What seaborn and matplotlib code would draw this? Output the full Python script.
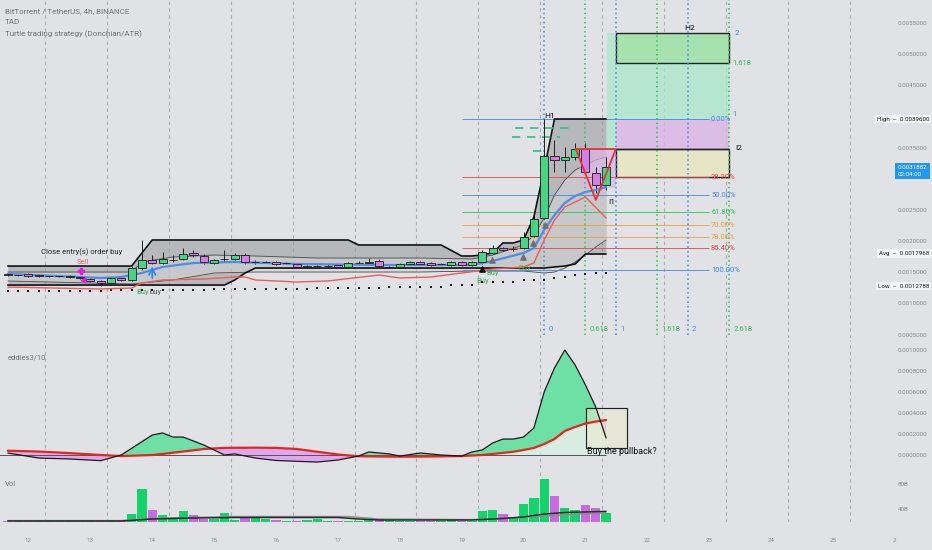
import matplotlib
matplotlib.use("Agg")
import matplotlib.pyplot as plt
import matplotlib.patches as mpatches
import numpy as np
import pandas as pd
import seaborn as sns

BG = "#e0e2e5"
C_GREEN = "#45d585"
C_PURPLE = "#d47ee6"
V_GREEN = "#14d36a"
V_PURPLE = "#c86ae0"
FIB_BLUE = "#3d86f0"
FIB_GREEN = "#2fbf55"
FIB_RED = "#ee4040"
FIB_ORANGE = "#f0a030"

# ---- candles: BTT/USDT 4h, prices in 1e-7 USDT, volume in billions ----
first_bar_day = 11 + 16 / 24   # first bar 11th 16:00, one bar every 4h
opens = [14720, 14560, 14720, 14560, 14400, 14400, 14400, 14240, 13920, 13600,
         13280, 14080, 13760, 15680, 16970, 16490, 16970, 17130, 18090, 17610,
         16490, 17130, 17130, 17770, 16650, 16650, 16650, 16490, 16330, 15850,
         16000, 16000, 16170, 15850, 16490, 16490, 16810, 15850, 15850, 16330,
         16650, 16490, 16330, 16170, 16650, 16170, 16650, 18090, 18890, 18730,
         18890, 20820, 23710, 33660, 33020, 33500, 34790, 30930, 29010]
highs = [14880, 14720, 14880, 14720, 14560, 14560, 14560, 14400, 14080, 13760,
         14240, 14240, 16000, 20180, 17770, 18250, 17770, 18890, 18570, 17930,
         17130, 18570, 18090, 18090, 16970, 16810, 16810, 16650, 16490, 16170,
         16170, 16330, 16330, 16650, 16810, 17290, 17130, 16000, 16490, 16810,
         16810, 16650, 16490, 16810, 16810, 16810, 18570, 19380, 19060, 19220,
         21460, 24350, 39600, 36230, 35110, 35750, 35750, 31900, 33500]
lows = [14400, 14400, 14240, 14240, 14240, 14240, 14080, 13920, 13440, 12790,
        12960, 13600, 13600, 15360, 16330, 16330, 16650, 16970, 17450, 16330,
        16330, 16810, 16970, 16330, 16330, 16490, 16170, 16330, 15680, 15680,
        15850, 15850, 15680, 15680, 16170, 16330, 15680, 15680, 15680, 16170,
        16170, 16000, 16170, 16000, 16000, 16000, 16330, 17930, 18410, 18410,
        18730, 20660, 23550, 31090, 31090, 33020, 30770, 27720, 28200]
closes = [14560, 14560, 14400, 14400, 14400, 14400, 14240, 14080, 13600, 13280,
          14080, 13760, 15680, 16970, 16490, 17130, 16970, 17930, 17770, 16650,
          16970, 17130, 17770, 16650, 16650, 16650, 16330, 16490, 15850, 16000,
          16000, 16000, 15850, 16490, 16490, 16650, 16000, 15850, 16330, 16650,
          16330, 16170, 16330, 16650, 16170, 16650, 18250, 18890, 18570, 18730,
          20660, 23550, 33660, 33020, 33500, 34790, 31090, 29010, 31882]
volume_b = [21.5, 20.5, 20.5, 20.5, 20.5, 20.5, 21.0, 21.5, 21.0, 21.0,
            21.5, 22.9, 32.0, 72.0, 39.0, 29.8, 26.1, 37.4, 29.8, 23.8,
            23.8, 33.0, 22.9, 27.4, 26.1, 23.8, 22.4, 21.5, 21.5, 22.4,
            23.8, 20.5, 21.5, 20.5, 20.5, 22.9, 23.8, 22.9, 21.5, 20.8,
            20.5, 20.3, 20.5, 22.9, 21.5, 20.5, 36.2, 38.9, 31.5, 25.0,
            47.5, 57.1, 87.8, 60.3, 41.1, 38.9, 46.6, 42.1, 33.0]

# Turtle / Donchian channel (per bar, 1e-7)
don_upper = [16000] * 13 + [18100] + [20180] * 20 + [19380] * 9 + [18500] + [17610] * 2 + \
            [17800, 18090, 19700, 19700, 20180, 23870, 31500] + [39600] * 6
don_lower = [12950] * 22 + [13760, 14880] + [15680] * 29 + [15850, 16000, 16330] + [17930] * 3
stop_dots = [11990] * 10 + [12150] * 10 + [12310] * 10 + [12470] * 7 + [12630] * 6 + \
            [12960] * 3 + [13440] * 4 + [13760] * 3 + [14080, 14240, 14560, 14720, 14880, 14880]

# inner band (bar index -> 1e-7)
band_idx = [0, 12, 13, 16, 20, 24, 30, 40, 45, 47, 50, 51, 52, 53, 54, 55, 56, 57, 58]
band_upper = [15040, 15040, 16650, 17450, 17770, 17610, 17290, 17290, 17130, 17770,
              19380, 20980, 23710, 27400, 29810, 31410, 32220, 33020, 33500]
band_lower = [13600, 13120, 13280, 13760, 14880, 15040, 15040, 15040, 15200, 15200,
              15200, 15040, 14880, 15040, 15680, 16650, 17770, 19060, 20180]

ema_idx = [0, 7, 9, 11, 13, 15, 18, 22, 28, 36, 45, 47, 50, 51, 52, 53, 54, 55, 56, 57, 58]
ema_vals = [14720, 14240, 14080, 14240, 14880, 15850, 16490, 16650, 16330, 16170, 16170,
            16810, 18090, 18890, 21780, 24190, 26120, 27240, 27880, 28200, 28690]
slow_idx = [0, 9, 12, 13, 15, 19, 22, 23, 24, 28, 31, 36, 38, 41, 44, 47, 50, 51, 52, 53, 54, 56, 58]
slow_vals = [12630, 12310, 12470, 13280, 13760, 13920, 14240, 14240, 13760, 13440, 13600, 14560,
             14080, 14240, 14880, 15520, 15850, 16490, 20180, 23390, 25480, 27080, 23710]

# eddies3/10 oscillator (bar index -> 1e-6)
osc_idx = [0, 3, 6, 9, 11, 14, 15, 16, 17, 19, 21, 22, 24, 26, 28, 30, 32, 34, 35, 37, 38,
           40, 42, 44, 45, 46, 47, 48, 49, 50, 51, 52, 53, 54, 55, 56, 57, 58]
osc_fast = [19, -29, -38, -54, 0, 190, 210, 171, 171, 95, 0, 10, -29, -52, -60, -67, -48, -10,
            29, 10, -10, 19, 0, -10, 29, 48, 114, 152, 152, 171, 257, 600, 829, 1000, 857, 667, 457, 162]
osc_slow = [41, 33, 18, 0, -10, 0, 10, 22, 33, 57, 68, 69, 70, 68, 57, 31, 5, -12,
            -13, -15, -16, -15, -13, -10, -5, 0, 10, 20, 31, 48, 67, 105, 152, 229, 267, 300, 319, 333]

volma_idx = [0, 11, 14, 18, 22, 32, 34, 36, 45, 48, 50, 52, 54, 58]
volma_vals = [20.8, 20.8, 24.0, 25.6, 26.4, 26.4, 24.0, 22.4, 22.4, 24.8, 27.2, 32.0, 34.4, 36.2]
volma2_idx = [0, 11, 14, 22, 33, 36, 45, 50, 58]
volma2_vals = [21.5, 21.5, 25.0, 28.0, 28.0, 24.0, 23.0, 27.0, 34.0]

# fib retracement (price) and fib time zones (day)
fib_labels = ["0.00%", "38.20%", "50.00%", "61.80%", "70.00%", "78.00%", "85.40%", "100.00%"]
fib_prices = [0.003960, 0.003029, 0.002740, 0.002467, 0.002259, 0.002066, 0.001889, 0.001536]
fib_colors = [FIB_BLUE, FIB_RED, FIB_BLUE, FIB_GREEN, FIB_ORANGE, FIB_ORANGE, FIB_RED, FIB_BLUE]
tz_days = [20.33, 20.99, 21.49, 22.15, 22.65, 23.32]
tz_labels = ["0", "0.618", "1", "1.618", "2", "2.618"]
tz_colors = [FIB_BLUE, FIB_GREEN, FIB_BLUE, FIB_GREEN, FIB_BLUE, FIB_GREEN]

day_labels = [str(d) for d in range(12, 26)] + ["2"]

# ---- frames ----
n = len(opens)
bars = pd.DataFrame({"open": opens, "high": highs, "low": lows, "close": closes,
                     "vol": volume_b, "upper": don_upper, "lower": don_lower, "stop": stop_dots})
bars["day"] = first_bar_day + np.arange(n) / 6
for c in ["open", "high", "low", "close", "upper", "lower", "stop"]:
    bars[c] = bars[c] * 1e-7
bars["vol"] = bars["vol"] * 1e9
up = bars["close"] >= bars["open"]


def idx_day(idx):
    return first_bar_day + np.asarray(idx) / 6


sns.set_theme(style="white")
plt.rcParams["font.family"] = ["Roboto", "DejaVu Sans"]

fig = plt.figure(figsize=(9.32, 5.5), dpi=100, facecolor=BG)
ax = fig.add_axes([0, 212 / 550, 1, 338 / 550])
ax_osc = fig.add_axes([0, 82 / 550, 1, 128 / 550], sharex=ax)
ax_vol = fig.add_axes([0, 28 / 550, 1, 52 / 550], sharex=ax)

grid_days = [d + 0.27 for d in range(12, 26)]
for a in (ax, ax_osc, ax_vol):
    a.set_facecolor(BG)
    for s in a.spines.values():
        s.set_visible(False)
    for g in grid_days:
        a.axvline(g, color="#a7a9ad", lw=0.8, ls=(0, (3, 3)), zorder=0)
    a.yaxis.tick_right()
    a.tick_params(axis="y", length=0, pad=-24.5, labelsize=4.5, labelcolor="#858a91")
    a.tick_params(axis="x", length=0)
ax.tick_params(labelbottom=False)
ax_osc.tick_params(labelbottom=False)
ax.set_xlim(11.54, 26.6)

# ---- main price pane ----
ax.set_ylim(0.000445, 0.005870)
main_ticks = [0.0005, 0.001, 0.0015, 0.002, 0.0025, 0.0035, 0.0045, 0.005, 0.0055]
ax.set_yticks(main_ticks)
ax.set_yticklabels([f"{t:.7f}" for t in main_ticks])

ax.fill_between(bars["day"], bars["upper"], bars["lower"], color="#9b9da0", alpha=0.6, lw=0, zorder=1)
bd = idx_day(band_idx)
ax.fill_between(bd, np.array(band_upper) * 1e-7, np.array(band_lower) * 1e-7,
                color="#d2d3d5", alpha=0.6, lw=0, zorder=1.2)
sns.lineplot(x=bd, y=np.array(band_upper) * 1e-7, color="#4a4a4a", lw=0.6, ax=ax, zorder=1.5)
sns.lineplot(x=bd, y=np.array(band_lower) * 1e-7, color="#4a4a4a", lw=0.6, ax=ax, zorder=1.5)
sns.lineplot(data=bars, x="day", y="upper", color="#111", lw=1.2, ax=ax, zorder=3)
sns.lineplot(data=bars, x="day", y="lower", color="#111", lw=1.2, ax=ax, zorder=3)

# pattern zones
ax.add_patch(mpatches.Rectangle((21.346, 0.00396), 23.317 - 21.346, 0.005340 - 0.00396,
                                fc="#a8e8c8", ec="none", alpha=0.75, zorder=1.6))
ax.add_patch(mpatches.Rectangle((21.346, 0.003478), 21.491 - 21.346, 0.00396 - 0.003478,
                                fc="#a8e8c8", ec="none", alpha=0.75, zorder=1.6))
ax.add_patch(mpatches.Rectangle((21.491, 0.003478), 23.317 - 21.491, 0.00396 - 0.003478,
                                fc="#dcb4e6", ec="none", alpha=0.8, zorder=1.6))
ax.add_patch(mpatches.Rectangle((20.909, 0.002852), 21.491 - 20.909, 0.003478 - 0.002852,
                                fc="#dcb4e6", ec="none", alpha=0.7, zorder=1.6))
ax.add_patch(mpatches.Rectangle((21.491, 0.003029), 23.317 - 21.491, 0.003478 - 0.003029,
                                fc="#e6e6c6", ec="#222", lw=1.0, zorder=2))
ax.add_patch(mpatches.Rectangle((21.491, 0.004859), 23.317 - 21.491, 0.005340 - 0.004859,
                                fc="#a6e2ae", ec="#222", lw=1.0, zorder=2))

# fib retracement
ax.hlines(fib_prices, 19.0, 23.0, colors=fib_colors, lw=0.7, alpha=0.85, zorder=2.2)
for lab, p, c in zip(fib_labels, fib_prices, fib_colors):
    ax.text(23.03, p, lab, color=c, fontsize=5.5, ha="left", va="center", zorder=6)

# fib time zones
for d, lab, c in zip(tz_days, tz_labels, tz_colors):
    ax.axvline(d, ymin=0.01, color=c, lw=1.1, ls=(0, (1, 2)), zorder=2.3)
    ax.text(d + 0.07, 0.000589, lab, color=c, fontsize=5.5, ha="left", va="center")
ax.text(23.38, 0.00404, "1", color=FIB_BLUE, fontsize=5.5, ha="left", va="center")
ax.text(23.38, 0.004859, "1.618", color=FIB_GREEN, fontsize=5.5, ha="left", va="center")
ax.text(23.41, 0.005340, "2", color=FIB_BLUE, fontsize=5.5, ha="left", va="center")

# green target dashes
ax.hlines([0.003816, 0.003671, 0.003447], [19.86, 19.81, 20.15], [20.75, 20.59, 20.34],
          colors="#2fc080", lw=1.2, linestyles=[(0, (5, 4))], zorder=4)

# candles
ax.vlines(bars["day"], bars["low"], bars["high"], color="#1e1e1e", lw=0.7, zorder=4)
ax.bar(bars["day"], bars["close"] - bars["open"], bottom=bars["open"], width=0.13,
       color=np.where(up, C_GREEN, C_PURPLE), edgecolor="#1a1a1a", linewidth=0.6, zorder=5)

sns.lineplot(x=idx_day(ema_idx), y=np.array(ema_vals) * 1e-7, color="#4f8ce6", lw=1.6, ax=ax, zorder=4.5)
sns.lineplot(x=idx_day(slow_idx), y=np.array(slow_vals) * 1e-7, color="#f05a5a", lw=1.0, ax=ax, zorder=4.5)
sns.scatterplot(data=bars, x="day", y="stop", color="#111", s=3, marker="s", linewidth=0, ax=ax, zorder=4)

# triangle pattern
ax.plot([20.845, 21.491, 21.168, 20.845], [0.003478, 0.003478, 0.002660, 0.003478],
        color="#e8303a", lw=1.3, zorder=6)
ax.hlines(0.003478, 21.491, 23.317, colors="#222", lw=1.0, zorder=6)

# signals and labels
ax.scatter([19.488, 19.989, 20.15, 20.344], [0.001697, 0.001745, 0.001969, 0.002258],
           marker="^", s=14, color="#6d6f73", zorder=6)
ax.scatter([19.326], [0.001553], marker="^", s=14, color="#111", zorder=6)
ax.scatter([12.848], [0.00152], marker="P", s=14, color="#e020e0", zorder=6)
ax.scatter([12.88], [0.00137], marker="<", s=10, color="#e020e0", zorder=6)
ax.annotate("", xy=(14.0, 0.001637), xytext=(14.0, 0.00136),
            arrowprops=dict(arrowstyle="->", color="#2f86f0", lw=1.2), zorder=6)
ax.text(12.865, 0.001825, "Close entry(s) order buy", fontsize=5.5, color="#222", ha="center", va="center")
ax.text(12.88, 0.001665, "Sell", fontsize=5.5, color="#f06a78", ha="center", va="center")
ax.text(13.75, 0.001183, "Buy", fontsize=5.5, color="#35b050", ha="left", va="center")
ax.text(13.96, 0.001183, "buy", fontsize=5.5, color="#555", ha="left", va="center")
ax.text(19.407, 0.001488, "Buy", fontsize=5.5, color="#35b050", ha="left", va="center")
ax.text(19.245, 0.00136, "Buy", fontsize=5.5, color="#35b050", ha="left", va="center")
ax.text(19.911, 0.001568, "Buy", fontsize=5.5, color="#35b050", ha="left", va="center")
ax.text(20.425, 0.004008, "H1", fontsize=6, color="#111", ha="center", va="center", zorder=7)
ax.text(22.686, 0.005421, "H2", fontsize=6, color="#111", ha="center", va="center", zorder=7)
ax.text(21.42, 0.002628, "I1", fontsize=6, color="#111", ha="center", va="center", zorder=7)
ax.text(23.414, 0.003494, "I2", fontsize=6, color="#111", ha="left", va="center", zorder=7)

ax.text(0.0054, 0.967, "BitTorrent / TetherUS, 4h, BINANCE", transform=ax.transAxes,
        fontsize=5.8, color="#6f737a", va="center")
ax.text(0.0054, 0.935, "TAD", transform=ax.transAxes, fontsize=5.8, color="#6f737a", va="center")
ax.text(0.0054, 0.899, "Turtle trading strategy (Donchian/ATR)", transform=ax.transAxes,
        fontsize=5.8, color="#6f737a", va="center")

# price tags on the scale
ytr = ax.get_yaxis_transform()
for p, txt in [(0.00396, "High  \u2013  0.0039600"), (0.0017968, "Avg  \u2013  0.0017968"),
               (0.0012788, "Low  \u2013  0.0012788")]:
    ax.text(0.997, p, txt, transform=ytr, ha="right", va="center", fontsize=4.5, color="#222",
            bbox=dict(boxstyle="square,pad=0.3", fc="#f3f4f6", ec="none"), zorder=8)
ax.text(0.9635, 0.003125, "0.0031882\n02:04:00", transform=ytr, ha="left", va="center",
        fontsize=4.5, color="white", linespacing=1.3,
        bbox=dict(boxstyle="square,pad=0.45", fc="#2196f3", ec="none"), zorder=8)

# ---- oscillator pane ----
ax_osc.set_ylim(-0.0001238, 0.0010952)
osc_ticks = [0.0, 0.0002, 0.0004, 0.0006, 0.0008, 0.001]
ax_osc.set_yticks(osc_ticks)
ax_osc.set_yticklabels([f"{t:.7f}" for t in osc_ticks])
od = idx_day(osc_idx)
fast = np.array(osc_fast) * 1e-6
slow = np.array(osc_slow) * 1e-6
late = np.array(osc_idx) >= 45
ax_osc.fill_between(od[late], slow[late], 0, color="#d6f2e2", alpha=0.7, lw=0, zorder=1)
ax_osc.fill_between(od, fast, slow, where=fast >= slow, interpolate=True, color="#6fe0a5", lw=0, zorder=2)
ax_osc.fill_between(od, fast, slow, where=fast < slow, interpolate=True, color="#e0a6ee", lw=0, zorder=2)
ax_osc.hlines(0, od[0] - 0.2, od[-1], colors="#555", lw=0.7, zorder=2.5)
ax_osc.add_patch(mpatches.Rectangle((21.015, 0.0000667), 21.672 - 21.015, 0.000450 - 0.0000667,
                                    fc="#eaeacb", ec="#222", lw=0.8, alpha=0.55, zorder=2.6))
ax_osc.add_patch(mpatches.Rectangle((21.015, 0.0000667), 21.672 - 21.015, 0.000450 - 0.0000667,
                                    fc="none", ec="#222", lw=0.8, zorder=2.7))
sns.lineplot(x=od, y=slow, color="#e3261e", lw=1.6, ax=ax_osc, zorder=3)
sns.lineplot(x=od, y=fast, color="#1a1a1a", lw=0.9, ax=ax_osc, zorder=4)
ax_osc.text(21.03, 0.0000286, "Buy the pullback?", fontsize=6.5, color="#111", ha="left",
            va="center", zorder=6)
ax_osc.text(0.0086, 0.867, "eddies3/10", transform=ax_osc.transAxes, fontsize=5.5,
            color="#6f737a", va="center")

# ---- volume pane ----
ax_vol.set_ylim(19.2e9, 102.4e9)
ax_vol.bar(bars["day"], bars["vol"], width=0.15, color=np.where(up, V_GREEN, V_PURPLE), lw=0, zorder=2)
sns.lineplot(x=idx_day(volma2_idx), y=np.array(volma2_vals) * 1e9, color="#8a8c90", lw=1.0, ax=ax_vol, zorder=3)
sns.lineplot(x=idx_day(volma_idx), y=np.array(volma_vals) * 1e9, color="#2a2a2a", lw=1.1, ax=ax_vol, zorder=3)
ax_vol.set_yticks([40e9, 80e9])
ax_vol.set_yticklabels(["40B", "80B"])
ax_vol.text(0.0054, 0.73, "Vol", transform=ax_vol.transAxes, fontsize=5.5, color="#6f737a", va="center")
ax_vol.set_xticks(list(range(12, 27)))
ax_vol.set_xticklabels(day_labels)
ax_vol.tick_params(axis="x", pad=11.5, labelsize=4.5, labelcolor="#858a91")

for a in (ax, ax_osc, ax_vol):
    a.set_xlabel("")
    a.set_ylabel("")
ax.set_xlim(11.54, 26.6)

fig.savefig("out.png", dpi=100, facecolor=BG)
